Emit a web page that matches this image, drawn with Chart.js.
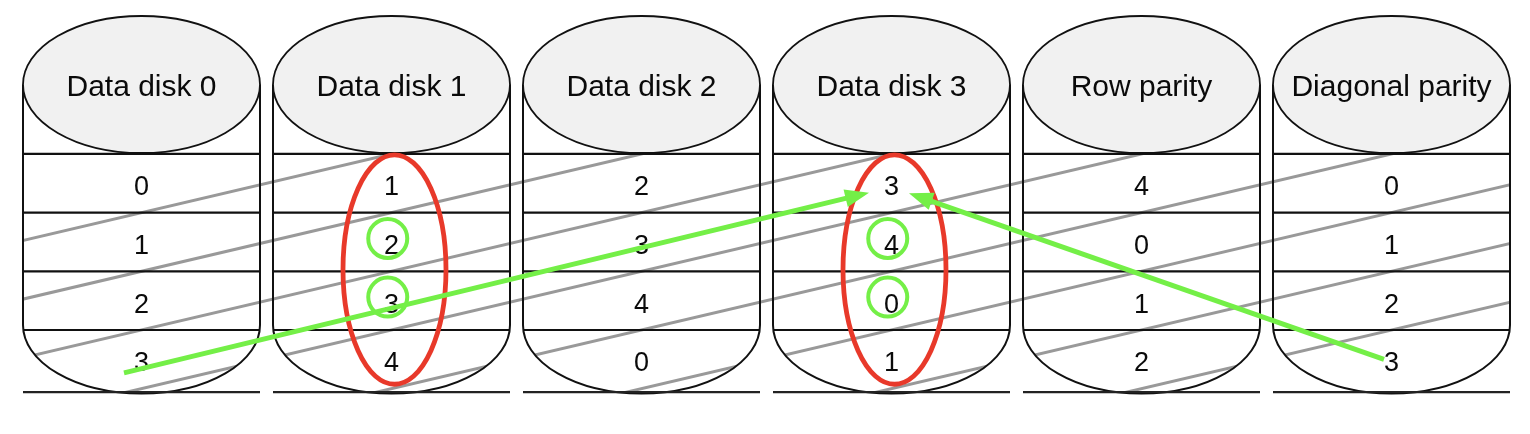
<!DOCTYPE html>
<html><head><meta charset="utf-8">
<script src="https://cdn.jsdelivr.net/npm/chart.js@4.4.1/dist/chart.umd.min.js"></script>
<style>html,body{margin:0;padding:0;background:#fff}#wrap{width:1530px;height:434px;position:relative}</style>
</head><body><div id="wrap"><canvas id="c"></canvas></div>
<script>
// ---- data ----
const disks = ['Data disk 0','Data disk 1','Data disk 2','Data disk 3','Row parity','Diagonal parity'];
const rowIndex = [0,1,2,3];
const blockValues = [
  [0,1,2,3],
  [1,2,3,4],
  [2,3,4,0],
  [3,4,0,1],
  [4,0,1,2],
  [0,1,2,3]
];
const diagonalBoundaries = [0.5,1.5,2.5,3.5,4.5,5.5,6.5,7.5]; // stripe: row = b - disk
const highlightedDisks = [1,3];
const circledDisk = [1,1,3,3];
const circledRow  = [1,2,1,2];
const arrowFromX = [-0.07, 4.97];
const arrowFromY = [3.23, 3.00];
const arrowToX   = [2.91, 3.07];
const arrowToY   = [0.16, 0.17];

// ---- style / layout (not data) ----
const FONT = '"Liberation Sans", Arial, Helvetica, sans-serif';
const G = {half:0.474, topC:-1.684, botC:2.415, capR:1.1675, groundY:3.56,
           redDx:0.012, redCy:1.47, redRx:0.206, redRy:1.955,
           circDx:-0.015, circDy:-0.06};
const GREEN = '#74ef47', RED = '#e8392a';

const diagramPlugin = {
  id:'raidDiagram',
  beforeDatasetsDraw(chart){
    const {ctx, scales:{x,y}} = chart;
    const px = v=>x.getPixelForValue(v), py = v=>y.getPixelForValue(v);
    const ryPx = Math.abs(py(G.topC+G.capR)-py(G.topC));
    const yt = py(G.topC), yb = py(G.botC);
    ctx.save();
    // bodies
    disks.forEach((n,i)=>{
      const l=px(i-G.half), r=px(i+G.half), cx=px(i), rx=(r-l)/2;
      ctx.beginPath(); ctx.moveTo(l,yt); ctx.lineTo(l,yb);
      ctx.ellipse(cx,yb,rx,ryPx,0,Math.PI,0,true);
      ctx.lineTo(r,yt); ctx.closePath(); ctx.fillStyle='#fff'; ctx.fill();
    });
    // block numbers
    ctx.fillStyle='#0a0a0a'; ctx.font='27px '+FONT; ctx.textAlign='center'; ctx.textBaseline='alphabetic';
    disks.forEach((n,i)=>{
      rowIndex.forEach(r=>{ ctx.fillText(String(blockValues[i][r]), px(i), py(r)+12); });
    });
    // diagonal stripes clipped to cylinders
    ctx.save();
    ctx.beginPath();
    const L=px(-G.half), R=px(disks.length-1+G.half), T=py(rowIndex[0]-0.5);
    ctx.rect(L,T,R-L,yb-T);
    disks.forEach((n,i)=>{
      const rx=(px(i+G.half)-px(i-G.half))/2;
      ctx.moveTo(px(i)+rx,yb); ctx.ellipse(px(i),yb,rx,ryPx,0,0,Math.PI*2);
    });
    ctx.clip();
    ctx.strokeStyle='#999'; ctx.lineWidth=3;
    diagonalBoundaries.forEach(b=>{
      ctx.beginPath(); ctx.moveTo(px(-1),py(b+1)); ctx.lineTo(px(disks.length),py(b-disks.length)); ctx.stroke();
    });
    ctx.restore();
    // row lines, outlines, caps, ground lines
    disks.forEach((n,i)=>{
      const l=px(i-G.half), r=px(i+G.half), cx=px(i), rx=(r-l)/2;
      ctx.strokeStyle='#111'; ctx.lineWidth=2.2;
      rowIndex.forEach(rw=>{ const yy=py(rw-0.5); ctx.beginPath(); ctx.moveTo(l,yy); ctx.lineTo(r,yy); ctx.stroke(); });
      ctx.lineWidth=2;
      ctx.beginPath(); ctx.moveTo(l,yt); ctx.lineTo(l,yb);
      ctx.ellipse(cx,yb,rx,ryPx,0,Math.PI,0,true); ctx.lineTo(r,yt); ctx.stroke();
      ctx.beginPath(); ctx.ellipse(cx,yt,rx,ryPx,0,0,Math.PI*2);
      ctx.fillStyle='#f1f1f1'; ctx.fill(); ctx.lineWidth=1.8; ctx.stroke();
      const gy=py(G.groundY); ctx.lineWidth=2.2; ctx.strokeStyle='#222';
      ctx.beginPath(); ctx.moveTo(l,gy); ctx.lineTo(r,gy); ctx.stroke();
      ctx.fillStyle='#0a0a0a'; ctx.font='30px '+FONT; ctx.textAlign='center';
      ctx.fillText(n, cx, yt+11);
    });
    // red ellipses
    ctx.strokeStyle=RED; ctx.lineWidth=4.8;
    highlightedDisks.forEach(i=>{
      const cx=px(i+G.redDx), cy=py(G.redCy);
      const rx=px(i+G.redRx)-px(i), ry=Math.abs(py(G.redCy+G.redRy)-cy);
      ctx.beginPath(); ctx.ellipse(cx,cy,rx,ry,0,0,Math.PI*2); ctx.stroke();
    });
    ctx.restore();
  },
  afterDatasetsDraw(chart){
    const {ctx, scales:{x,y}} = chart;
    const px = v=>x.getPixelForValue(v), py = v=>y.getPixelForValue(v);
    ctx.save();
    ctx.strokeStyle=GREEN; ctx.fillStyle=GREEN; ctx.lineWidth=5; ctx.lineCap='butt';
    arrowFromX.forEach((fx,k)=>{
      const x0=px(fx), y0=py(arrowFromY[k]), x1=px(arrowToX[k]), y1=py(arrowToY[k]);
      const a=Math.atan2(y1-y0,x1-x0), len=24, hw=9;
      const bx=x1-len*Math.cos(a), by=y1-len*Math.sin(a);
      ctx.beginPath(); ctx.moveTo(x0,y0); ctx.lineTo(bx+2*Math.cos(a),by+2*Math.sin(a)); ctx.stroke();
      ctx.beginPath(); ctx.moveTo(x1,y1);
      ctx.lineTo(bx+hw*Math.sin(a), by-hw*Math.cos(a));
      ctx.lineTo(bx-hw*Math.sin(a), by+hw*Math.cos(a));
      ctx.closePath(); ctx.fill();
    });
    ctx.restore();
  }
};

new Chart(document.getElementById('c'), {
  type:'scatter',
  data:{ datasets:[{
    label:'parity check blocks',
    data: circledDisk.map((d,k)=>({x:d+G.circDx, y:circledRow[k]+G.circDy})),
    pointRadius:19.5, pointHoverRadius:19.5, pointBorderWidth:4,
    pointBorderColor:GREEN, pointBackgroundColor:'rgba(0,0,0,0)', showLine:false,
    clip:false
  }]},
  options:{
    responsive:true, maintainAspectRatio:false, animation:false,
    layout:{padding:0, autoPadding:false},
    events:[],
    plugins:{legend:{display:false}, tooltip:{enabled:false}},
    scales:{
      x:{type:'linear', display:false, min:-0.566, max:5.554},
      y:{type:'linear', display:false, reverse:true, min:-3.1243, max:4.273}
    }
  },
  plugins:[diagramPlugin]
});
</script>
</body></html>
